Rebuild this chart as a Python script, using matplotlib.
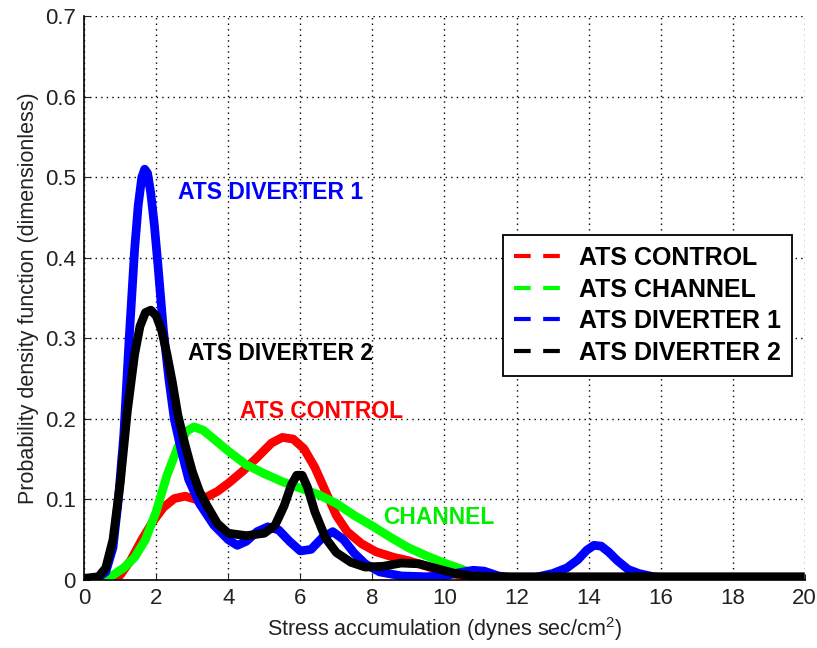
import matplotlib
matplotlib.use("Agg")
import matplotlib.pyplot as plt
from matplotlib.lines import Line2D

plt.rcParams['font.family'] = ['Liberation Sans', 'DejaVu Sans']

# probability density curves, stress accumulation (dynes sec/cm^2) vs pdf
control_x = [0.7, 1.0, 1.3, 1.6, 1.9, 2.2, 2.5, 2.8, 3.1, 3.4, 3.7, 4.0, 4.4, 4.8, 5.2, 5.5,
             5.8, 6.1, 6.4, 6.7, 7.0, 7.3, 7.7, 8.1, 8.6, 9.0, 9.5, 10.0, 10.5, 11.0, 12.0]
control_y = [0.0, 0.006, 0.025, 0.05, 0.072, 0.09, 0.101, 0.104, 0.1, 0.103, 0.11, 0.12, 0.135,
             0.152, 0.17, 0.177, 0.175, 0.163, 0.14, 0.11, 0.08, 0.06, 0.045, 0.035, 0.028,
             0.024, 0.017, 0.01, 0.005, 0.002, 0.0]

channel_x = [0.5, 0.8, 1.1, 1.4, 1.7, 2.0, 2.3, 2.6, 2.85, 3.05, 3.3, 3.6, 4.0, 4.5, 5.0, 5.5,
             6.0, 6.5, 7.0, 7.5, 8.0, 8.5, 9.0, 9.5, 10.0, 10.5, 10.8, 11.2, 12.0]
channel_y = [0.0, 0.006, 0.015, 0.028, 0.05, 0.085, 0.13, 0.165, 0.185, 0.19, 0.186, 0.175,
             0.16, 0.143, 0.132, 0.122, 0.114, 0.106, 0.095, 0.08, 0.067, 0.053, 0.04, 0.03,
             0.021, 0.013, 0.008, 0.004, 0.001]

div1_x = [0.3, 0.6, 0.8, 0.95, 1.1, 1.25, 1.4, 1.5, 1.6, 1.68, 1.76, 1.85, 1.95, 2.05, 2.2,
          2.35, 2.5, 2.7, 2.9, 3.2, 3.6, 4.0, 4.25, 4.5, 4.8, 5.1, 5.4, 5.7, 6.0, 6.3, 6.6,
          6.9, 7.2, 7.5, 7.8, 8.2, 8.8, 9.5, 10.0, 10.4, 10.8, 11.1, 11.5, 12.0, 12.5, 13.0,
          13.4, 13.7, 13.95, 14.15, 14.35, 14.55, 14.8, 15.1, 15.4, 15.8, 16.3, 17.0]
div1_y = [0.0, 0.01, 0.04, 0.1, 0.18, 0.3, 0.41, 0.465, 0.5, 0.51, 0.505, 0.48, 0.44, 0.39,
          0.31, 0.25, 0.2, 0.16, 0.125, 0.095, 0.068, 0.05, 0.043, 0.048, 0.06, 0.066, 0.062,
          0.048, 0.036, 0.038, 0.052, 0.06, 0.05, 0.033, 0.02, 0.01, 0.005, 0.004, 0.005,
          0.009, 0.012, 0.011, 0.005, 0.002, 0.003, 0.008, 0.015, 0.025, 0.037, 0.043,
          0.042, 0.035, 0.024, 0.013, 0.008, 0.004, 0.002, 0.001]

div2_x = [0.0, 0.4, 0.6, 0.8, 1.0, 1.2, 1.4, 1.55, 1.7, 1.85, 2.0, 2.15, 2.3, 2.45, 2.6, 2.8,
          3.0, 3.2, 3.4, 3.7, 4.0, 4.5, 5.0, 5.3, 5.55, 5.75, 5.9, 6.05, 6.2, 6.4, 6.7, 7.0,
          7.4, 7.8, 8.3, 8.8, 9.3, 9.8, 10.3, 10.8, 11.5, 13.0, 20.0]
div2_y = [0.002, 0.004, 0.015, 0.05, 0.12, 0.21, 0.28, 0.315, 0.332, 0.335, 0.328, 0.31,
          0.28, 0.245, 0.205, 0.168, 0.135, 0.11, 0.093, 0.07, 0.058, 0.055, 0.058, 0.068,
          0.092, 0.118, 0.13, 0.13, 0.115, 0.085, 0.052, 0.034, 0.022, 0.016, 0.017, 0.021,
          0.02, 0.014, 0.008, 0.005, 0.004, 0.004, 0.004]

names = ['ATS CONTROL', 'ATS CHANNEL', 'ATS DIVERTER 1', 'ATS DIVERTER 2']
colors = ['#ff0000', '#00ff00', '#0000ff', '#000000']

fig = plt.figure(figsize=(8.17, 6.48), dpi=100)
ax = fig.add_axes([0.103, 0.105, 0.882, 0.870])

series = [(control_x, control_y), (channel_x, channel_y), (div1_x, div1_y), (div2_x, div2_y)]
for (xs, ys), c in zip(series, colors):
    ax.plot(xs, ys, color=c, linewidth=6.3, solid_capstyle='butt', solid_joinstyle='round')

ax.set_xlim(0, 20)
ax.set_ylim(0, 0.7)
ax.set_xticks(range(0, 21, 2))
ax.set_yticks([0, 0.1, 0.2, 0.3, 0.4, 0.5, 0.6, 0.7])
ax.set_yticklabels(['0', '0.1', '0.2', '0.3', '0.4', '0.5', '0.6', '0.7'])
ax.grid(True, linestyle=(0, (1, 3)), color='black', linewidth=1.0)
ax.spines['top'].set_visible(False)
ax.spines['right'].set_visible(False)
ax.spines['left'].set_linewidth(1.2)
ax.spines['bottom'].set_linewidth(1.2)
ax.tick_params(direction='in', length=4, labelsize=16, colors='#222222', pad=6)

ax.set_xlabel(r'Stress accumulation (dynes sec/cm$\mathregular{^2}$)', fontsize=15.5,
              color='#222222', labelpad=4)
ax.set_ylabel('Probability density function (dimensionless)', fontsize=15.5,
              color='#222222', labelpad=4)

# curve labels inside the plot
lab = dict(fontsize=16.5, fontweight='bold', va='center')
ax.text(2.6, 0.481, 'ATS DIVERTER 1', color='#0000ff', **lab)
ax.text(2.88, 0.281, 'ATS DIVERTER 2', color='#000000', **lab)
ax.text(4.33, 0.209, 'ATS CONTROL', color='#ff0000', **lab)
ax.text(8.29, 0.077, 'CHANNEL', color='#00ee00', **lab)

handles = [Line2D([], [], color=c, linestyle=(0, (4, 3)), linewidth=3) for c in colors]
leg = ax.legend(handles, names, loc='upper left', bbox_to_anchor=(0.581, 0.612),
                borderaxespad=0, fancybox=False, framealpha=1, edgecolor='black',
                handlelength=2.0, handletextpad=0.6, labelspacing=0.3, borderpad=0.45,
                prop={'weight': 'bold', 'size': 18})
leg.get_frame().set_linewidth(1.3)

fig.savefig('out.png', dpi=100)
